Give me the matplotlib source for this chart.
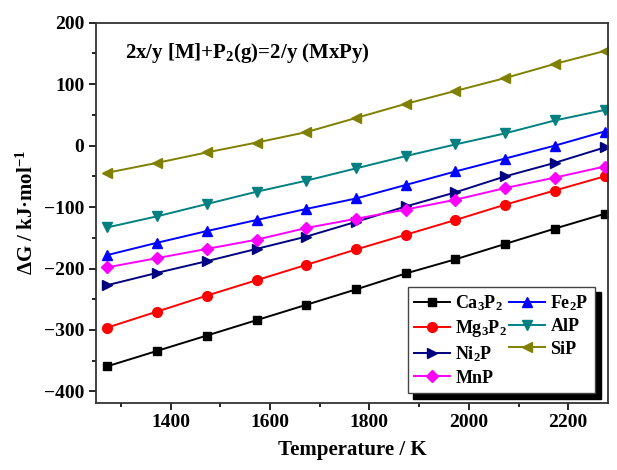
import matplotlib
matplotlib.use("Agg")
import matplotlib.pyplot as plt
from matplotlib.ticker import MultipleLocator

plt.rcParams["font.family"] = ["Liberation Serif", "DejaVu Serif"]
plt.rcParams["font.weight"] = "bold"
plt.rcParams["mathtext.fontset"] = "custom"
plt.rcParams["mathtext.rm"] = "Liberation Serif:bold"
plt.rcParams["mathtext.it"] = "Liberation Serif:bold"
plt.rcParams["mathtext.bf"] = "Liberation Serif:bold"

# Temperatures (K)
temps = [1273, 1373, 1473, 1573, 1673, 1773, 1873, 1973, 2073, 2173, 2273]

# Gibbs energy (kJ/mol)
ca3p2 = [-359, -334, -309, -284, -259, -234, -208, -185, -160, -135, -111]
mg3p2 = [-296, -270, -244, -219, -194, -169, -145, -121, -96, -73, -50]
ni2p = [-227, -207, -188, -168, -148, -124, -99, -76, -50, -28, -3]
mnp = [-198, -183, -168, -153, -134, -119, -104, -88, -69, -52, -34]
fe2p = [-178, -158, -139, -121, -103, -86, -64, -42, -21, 0, 23]
alp = [-133, -115, -95, -75, -57, -37, -17, 2, 20, 41, 58]
sip = [-44, -28, -11, 5, 22, 45, 68, 89, 110, 133, 154]

series = [
    ("Ca$_3$P$_2$", ca3p2, "black", "s", 6),
    ("Mg$_3$P$_2$", mg3p2, "red", "o", 7),
    ("Ni$_2$P", ni2p, "#000080", ">", 7.5),
    ("MnP", mnp, "magenta", "D", 6),
    ("Fe$_2$P", fe2p, "blue", "^", 7.5),
    ("AlP", alp, "#008080", "v", 7.5),
    ("SiP", sip, "#808000", "<", 7.5),
]

fig = plt.figure(figsize=(6.17, 4.70), dpi=100)
ax = fig.add_axes([0.1556, 0.1436, 0.8298, 0.808])

for label, vals, color, marker, ms in series:
    ax.plot(temps, vals, color=color, marker=marker, markersize=ms,
            linewidth=1.4, label=label)

ax.set_xlim(1250, 2280)
ax.set_ylim(-418, 200)
ax.xaxis.set_major_locator(MultipleLocator(200))
ax.xaxis.set_minor_locator(MultipleLocator(100))
ax.yaxis.set_major_locator(MultipleLocator(100))
ax.yaxis.set_minor_locator(MultipleLocator(50))
ax.tick_params(which="major", direction="out", length=5, width=1.2,
               labelsize=14, top=False, right=False)
ax.tick_params(which="minor", direction="out", length=3, width=1.2,
               top=False, right=False)
for sp in ax.spines.values():
    sp.set_linewidth(1.3)
    sp.set_color("#333333")

ax.set_xlabel("Temperature / K", fontsize=15, fontweight="bold", labelpad=6)
ax.set_ylabel("ΔG / kJ·mol$^{-1}$", fontsize=15, fontweight="bold", labelpad=4)

ax.text(0.057, 0.907, "2x/y [M]+P$_2$(g)=2/y (MxPy)", transform=ax.transAxes,
        fontsize=15, fontweight="bold", va="baseline", ha="left")

leg = ax.legend(loc="lower right", ncol=2, fontsize=13, frameon=True,
                fancybox=False, handlelength=2.0, handletextpad=0.3,
                columnspacing=0.1, labelspacing=0.3, borderpad=0.35,
                borderaxespad=0.0, bbox_to_anchor=(0.975, 0.025),
                shadow={"ox": 4, "oy": -4, "color": "black", "alpha": 1})
leg.get_frame().set_edgecolor("#444444")
leg.get_frame().set_linewidth(1.0)

fig.savefig("out.png", dpi=100)
